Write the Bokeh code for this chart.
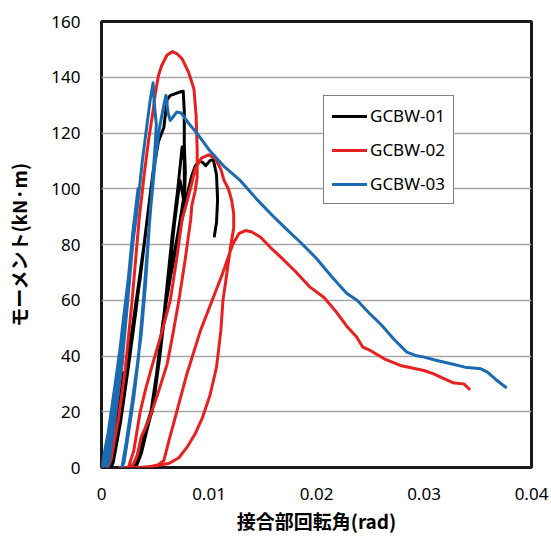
from bokeh.plotting import figure
from bokeh.models import Range1d, FixedTicker, Legend, LegendItem
from bokeh.embed import file_html
from bokeh.resources import INLINE

# ---- data (rotation angle [rad], moment [kN·m]) ----
gcbw01_x = [0.0000, 0.0007, 0.0014, 0.0020, 0.0015, 0.0009, 0.0006,
            0.0008, 0.0014, 0.0021, 0.0028, 0.0033, 0.0027, 0.0019, 0.0012, 0.0008,
            0.0010, 0.0016, 0.0023, 0.0030, 0.0036, 0.0041, 0.0036, 0.0028, 0.0019, 0.0012, 0.0009,
            0.0011, 0.0018, 0.0025, 0.0032, 0.0038, 0.0045, 0.0048, 0.0053, 0.0058, 0.0061, 0.0064,
            0.0068, 0.0072, 0.0076, 0.0077, 0.0077, 0.0078, 0.0077, 0.0076,
            0.0071, 0.0064, 0.0057, 0.0051, 0.0046, 0.0040, 0.0035, 0.0031, 0.0028,
            0.0031, 0.0035, 0.0040, 0.0047, 0.0053, 0.0059, 0.0066, 0.0071, 0.0075, 0.0077, 0.0077,
            0.0072, 0.0065, 0.0058, 0.0052, 0.0047, 0.0041, 0.0036, 0.0032, 0.0030,
            0.0033, 0.0037, 0.0042, 0.0048, 0.0054, 0.0061, 0.0068, 0.0073, 0.0076, 0.0077, 0.0081,
            0.0084, 0.0087, 0.0091, 0.0094, 0.0097, 0.0101, 0.0104, 0.0107, 0.0108, 0.0107, 0.0105]
gcbw01_y = [0, 5, 20, 34, 20, 5, 0,
            2, 14, 30, 48, 60, 44, 22, 6, 0,
            2, 15, 32, 52, 68, 84, 70, 48, 22, 4, 0,
            2, 17, 36, 56, 75, 97, 106, 117, 122, 132, 133.5,
            134, 134.6, 135, 128, 116, 106, 95, 91,
            82, 68, 52, 33, 20, 13, 6, 2, 0,
            1, 5, 12, 20, 37, 58, 84, 100, 115, 110, 98,
            86, 71, 54, 35, 21, 14, 7, 2, 0,
            1, 5, 13, 22, 39, 62, 88, 103, 97, 92, 100,
            104.7, 108, 110, 109.5, 108.3, 110.1, 110.5, 105, 96, 88, 83]

gcbw02_x = [0.0000, 0.0008, 0.0015, 0.0020, 0.0014, 0.0008, 0.0006,
            0.0009, 0.0016, 0.0022, 0.0028, 0.0035, 0.0040, 0.0044, 0.0048, 0.0050, 0.0053, 0.0056,
            0.0061, 0.0066, 0.0070, 0.0075, 0.0081, 0.0086, 0.0088, 0.0089, 0.0089, 0.0087, 0.0084,
            0.0083, 0.0078, 0.0072, 0.0066, 0.0061, 0.0052, 0.0044, 0.0037, 0.0033, 0.0030, 0.0027,
            0.0025, 0.0030, 0.0036, 0.0041, 0.0046, 0.0055, 0.0064, 0.0070, 0.0075, 0.0080, 0.0084,
            0.0087, 0.0093, 0.0100, 0.0106, 0.0111, 0.0114, 0.0118, 0.0121, 0.0123, 0.0123, 0.0120,
            0.0116, 0.0113, 0.0111, 0.0107, 0.0101, 0.0094, 0.0087, 0.0080, 0.0072, 0.0063, 0.0050,
            0.0035, 0.0017,
            0.0030, 0.0045, 0.0053, 0.0058, 0.0063, 0.0070, 0.0079, 0.0092, 0.0103, 0.0113, 0.0122,
            0.0128, 0.0134, 0.0140, 0.0148, 0.0157, 0.0167, 0.0180, 0.0194, 0.0207, 0.0218, 0.0229,
            0.0237, 0.0243, 0.0250, 0.0263, 0.0278, 0.0290, 0.0300, 0.0309, 0.0318, 0.0328, 0.0337,
            0.0342]
gcbw02_y = [0, 12, 28, 40, 22, 5, 0,
            3, 18, 35, 58, 89, 106, 118, 128, 134, 140.6, 144.2,
            148, 149.2, 148.5, 146.6, 141.8, 135.8, 126.3, 114.3, 104, 99, 94,
            89, 75, 60, 47, 37, 26, 17, 11, 4, 1.5, 0,
            0, 6, 20, 28, 35, 47, 60, 75, 89, 96, 102,
            107, 111, 112.2, 110.7, 107, 103, 100, 96, 91, 86, 79,
            68, 60, 49, 36, 26, 18, 12, 7.5, 3.5, 1.5, 0.5,
            0, 0,
            0, 0.3, 1, 2.5, 10, 20, 33, 49, 60, 70, 80,
            84, 85, 84.5, 82.6, 79, 75.4, 70.5, 64.7, 61, 56, 50.3,
            47, 43.2, 42, 39, 36.6, 35.6, 34.8, 33.6, 32, 30.3, 30,
            28.2]

gcbw03_x = [0.0000, 0.0006, 0.0012, 0.0017, 0.0012, 0.0006, 0.0002,
            0.0004, 0.0009, 0.0015, 0.0020, 0.0025, 0.0020, 0.0013, 0.0007, 0.0004,
            0.0005, 0.0010, 0.0017, 0.0022, 0.0027, 0.0031, 0.0034, 0.0029, 0.0024, 0.0018, 0.0011,
            0.0006, 0.0005,
            0.0007, 0.0012, 0.0019, 0.0024, 0.0029, 0.0033, 0.0038, 0.0042, 0.0045, 0.0048, 0.0049,
            0.0051,
            0.0050, 0.0047, 0.0045, 0.0041, 0.0037, 0.0033, 0.0028, 0.0023, 0.0019,
            0.0021, 0.0025, 0.0030, 0.0034, 0.0039, 0.0043, 0.0046, 0.0050, 0.0054, 0.0058, 0.0060,
            0.0062, 0.0064, 0.0067, 0.0070, 0.0074, 0.0081, 0.0088, 0.0100, 0.0114, 0.0129, 0.0145,
            0.0159, 0.0172, 0.0185, 0.0200, 0.0214, 0.0228, 0.0238, 0.0250, 0.0260, 0.0272, 0.0284,
            0.0292, 0.0300, 0.0312, 0.0325, 0.0338, 0.0353, 0.0359, 0.0367, 0.0376]
gcbw03_y = [0, 12, 28, 42, 26, 9, 0,
            2, 15, 32, 50, 68, 52, 28, 8, 0,
            1, 15, 35, 55, 75, 90, 100, 84, 64, 40, 16,
            3, 0,
            2, 16, 37, 58, 80, 92, 110, 122, 131, 138, 131,
            123,
            116, 100, 90, 66, 48, 36, 22, 9, 0,
            2, 12, 25, 38, 60, 80, 94, 110, 122, 130, 133.5,
            127, 124.5, 126, 127.5, 127.2, 123.5, 120.3, 114, 108, 103, 96,
            90.4, 85.5, 80.8, 75, 68.5, 62.5, 59.9, 55, 51.3, 46, 41.4,
            40.2, 39.6, 38.4, 37.2, 36, 35.4, 34.2, 31.5, 28.8]

series_names = ["GCBW-01", "GCBW-02", "GCBW-03"]
series_colors = ["#000000", "#E8211E", "#1B6BB3"]

x_ticks = [0, 0.01, 0.02, 0.03, 0.04]
x_tick_labels = ["0", "0.01", "0.02", "0.03", "0.04"]
y_ticks = [0, 20, 40, 60, 80, 100, 120, 140, 160]
y_tick_labels = ["0", "20", "40", "60", "80", "100", "120", "140", "160"]

x_title = "接合部回転角(rad)"
y_title = "モーメント(kN·m)"

# ---- figure ----
p = figure(width=551, height=537, output_backend="svg", toolbar_location=None,
           x_range=Range1d(0, 0.04), y_range=Range1d(0, 160),
           min_border_left=101, min_border_right=20, min_border_top=21, min_border_bottom=70)
p.background_fill_color = "white"
p.border_fill_color = "white"
p.outline_line_color = "#1a1a1a"
p.outline_line_width = 3

p.xgrid.visible = False
p.ygrid.grid_line_color = "#a6a6a6"
p.ygrid.grid_line_width = 1.3

p.xaxis.ticker = FixedTicker(ticks=x_ticks)
p.xaxis.major_label_overrides = {t: l for t, l in zip(x_ticks, x_tick_labels)}
p.yaxis.ticker = FixedTicker(ticks=y_ticks)
p.yaxis.major_label_overrides = {t: l for t, l in zip(y_ticks, y_tick_labels)}

for ax in (p.xaxis, p.yaxis):
    ax.axis_line_color = None
    ax.major_tick_line_color = None
    ax.minor_tick_line_color = None
    ax.major_tick_out = 0
    ax.major_tick_in = 0
    ax.minor_tick_out = 0
    ax.major_label_text_font = "Noto Sans"
    ax.major_label_text_font_size = "17px"
    ax.major_label_text_color = "#000000"
    ax.axis_label_text_font = "Noto Sans CJK JP"
    ax.axis_label_text_font_style = "bold"
    ax.axis_label_text_font_size = "19px"
    ax.axis_label_text_color = "#000000"

p.xaxis.major_label_standoff = 20
p.yaxis.major_label_standoff = 21
p.xaxis.axis_label = x_title
p.yaxis.axis_label = y_title
p.xaxis.axis_label_standoff = 4
p.yaxis.axis_label_standoff = 16

renderers = []
for xs, ys, c in zip([gcbw01_x, gcbw02_x, gcbw03_x], [gcbw01_y, gcbw02_y, gcbw03_y], series_colors):
    r = p.line(xs, ys, line_color=c, line_width=3, line_join="round", line_cap="round")
    renderers.append(r)

legend = Legend(items=[LegendItem(label=n, renderers=[r]) for n, r in zip(series_names, renderers)],
                location=(222, 263))
legend.border_line_color = "#000000"
legend.border_line_width = 1
legend.background_fill_color = "white"
legend.background_fill_alpha = 1
legend.label_text_font = "Noto Sans"
legend.label_text_font_size = "17px"
legend.label_text_color = "#000000"
legend.glyph_width = 35
legend.glyph_height = 20
legend.label_height = 20
legend.label_standoff = 3
legend.spacing = 11
legend.padding = 8
legend.margin = 0
p.add_layout(legend, "center")

open("out.html", "w").write(file_html(p, INLINE))
